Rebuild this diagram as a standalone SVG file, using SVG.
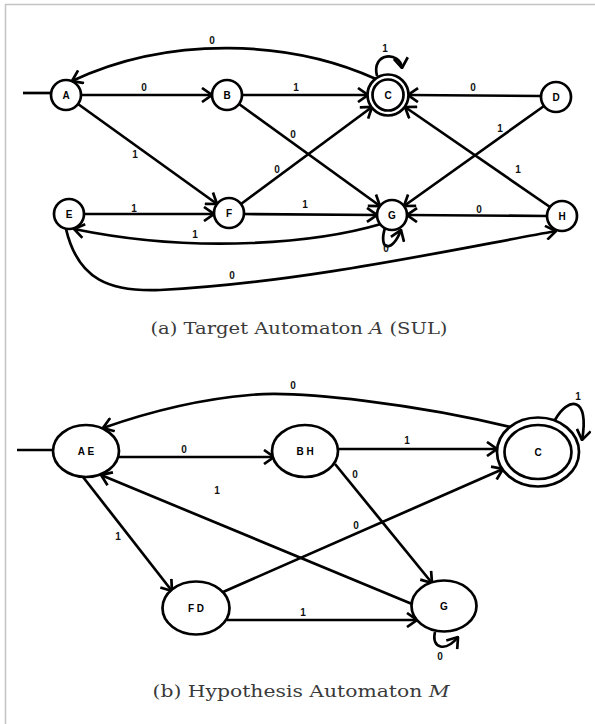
<svg xmlns="http://www.w3.org/2000/svg" width="595" height="724" viewBox="0 0 595 724">
<style>
.n{fill:#fff;stroke:#000;stroke-width:2.7}
.e{fill:none;stroke:#000;stroke-width:2.7}
.ea{fill:none;stroke:#000;stroke-width:2.7;marker-end:url(#arr)}
.nl{font-family:"Liberation Sans",Arial,sans-serif;font-size:10px;font-weight:bold;fill:#000;text-anchor:middle}
.el{font-family:"Liberation Sans",Arial,sans-serif;font-size:10px;font-weight:bold;fill:#111;text-anchor:middle}
.cap{font-family:"DejaVu Serif","Liberation Serif",serif;font-size:17px;fill:#3a3a3a;text-anchor:middle}
</style>
<defs>
<marker id="arr" viewBox="0 0 12 16" refX="11" refY="8" markerWidth="12" markerHeight="16" orient="auto" markerUnits="userSpaceOnUse">
<path d="M1,1 L11,8 L1,15" fill="none" stroke="#000" stroke-width="2.7"/>
</marker>
</defs>
<rect width="595" height="724" fill="#fff"/>
<g id="frame" fill="none" stroke="#c4c4c4" stroke-width="1.5">
<path d="M5.5,724 L5.5,4.5 L595,4.5"/>
</g>

<g id="connectors-a">
<path class="e" d="M23,93 L51,93"/>
<path class="ea" d="M81,95 L212,95"/>
<path class="ea" d="M242,95 L368,95"/>
<path class="ea" d="M541,96 L408,95"/>
<path class="ea" d="M376,79 C290,40 170,35 72,81"/>
<path class="ea" d="M377,76 C371,52 400,51 402,68"/>
<path class="ea" d="M239,104 L380,206"/>
<path class="ea" d="M78,104 L217,204"/>
<path class="ea" d="M241,204 L372,107"/>
<path class="ea" d="M544,106 L404,206"/>
<path class="ea" d="M550,207 L405,107"/>
<path class="ea" d="M84,214 L214,214"/>
<path class="ea" d="M244,214 L377,215"/>
<path class="ea" d="M547,216 L407,215"/>
<path class="ea" d="M381,224 C320,242 200,255 74,229"/>
<path class="ea" d="M66,229 C78,280 110,292 160,290 C300,283 450,250 556,231"/>
<path class="ea" d="M385,228 C378,250 392,254 401,230"/>
</g>
<g id="labels-a">
<text class="el" x="212" y="44">0</text>
<text class="el" x="385" y="52">1</text>
<text class="el" x="144" y="91">0</text>
<text class="el" x="296" y="91">1</text>
<text class="el" x="473" y="91">0</text>
<text class="el" x="293" y="138">0</text>
<text class="el" x="135" y="158">1</text>
<text class="el" x="277" y="173">0</text>
<text class="el" x="500" y="132">1</text>
<text class="el" x="518" y="173">1</text>
<text class="el" x="134" y="212">1</text>
<text class="el" x="305" y="208">1</text>
<text class="el" x="479" y="213">0</text>
<text class="el" x="195" y="238">1</text>
<text class="el" x="232" y="279">0</text>
<text class="el" x="386" y="252">0</text>
</g>
<g id="A"><circle class="n" cx="66" cy="95" r="15"/><text class="nl" x="66" y="99">A</text></g>
<g id="B"><circle class="n" cx="227" cy="95" r="15"/><text class="nl" x="227" y="99">B</text></g>
<g id="C"><circle class="n" cx="388" cy="95" r="20.5"/><circle class="n" cx="388" cy="95" r="15.5"/><text class="nl" x="388" y="99">C</text></g>
<g id="D"><circle class="n" cx="556" cy="97" r="15"/><text class="nl" x="556" y="101">D</text></g>
<g id="E"><circle class="n" cx="69" cy="214" r="15"/><text class="nl" x="69" y="218">E</text></g>
<g id="F"><circle class="n" cx="229" cy="213" r="15"/><text class="nl" x="229" y="217">F</text></g>
<g id="G"><circle class="n" cx="392" cy="215" r="15"/><text class="nl" x="392" y="219">G</text></g>
<g id="H"><circle class="n" cx="562" cy="216" r="15"/><text class="nl" x="562" y="220">H</text></g>
<text class="cap" x="299" y="334" textLength="297" lengthAdjust="spacingAndGlyphs">(a) Target Automaton <tspan font-style="italic">A</tspan> (SUL)</text>

<g id="connectors-b">
<path class="e" d="M17,450 L53,450"/>
<path class="ea" d="M118,457 L274,457"/>
<path class="ea" d="M338,449 L497,449"/>
<path class="ea" d="M510,427 C420,405 300,390 250,395 C190,400 140,415 103,428"/>
<path class="ea" d="M555,420 C568,396 590,396 582,440"/>
<path class="ea" d="M335,464 L432,583"/>
<path class="ea" d="M223,592 L503,469"/>
<path class="ea" d="M412,604 L101,475"/>
<path class="ea" d="M83,477 L172,591"/>
<path class="ea" d="M227,620 L417,620"/>
<path class="ea" d="M435,632 C431,649 446,652 458,637"/>
</g>
<g id="labels-b">
<text class="el" x="293" y="389">0</text>
<text class="el" x="578" y="400">1</text>
<text class="el" x="184" y="453">0</text>
<text class="el" x="407" y="444">1</text>
<text class="el" x="355" y="478">0</text>
<text class="el" x="356" y="529">0</text>
<text class="el" x="217" y="494">1</text>
<text class="el" x="118" y="540">1</text>
<text class="el" x="303" y="616">1</text>
<text class="el" x="440" y="660">0</text>
</g>
<g id="AE"><ellipse class="n" cx="86" cy="451" rx="33" ry="26"/><text class="nl" x="86" y="455">A E</text></g>
<g id="BH"><ellipse class="n" cx="305" cy="451" rx="33" ry="26"/><text class="nl" x="305" y="455">B H</text></g>
<g id="C2"><ellipse class="n" cx="538" cy="452" rx="41" ry="34.5"/><ellipse class="n" cx="538" cy="452" rx="33.5" ry="27"/><text class="nl" x="538" y="456">C</text></g>
<g id="FD"><ellipse class="n" cx="196" cy="608" rx="33.5" ry="26.5"/><text class="nl" x="196" y="612">F D</text></g>
<g id="G2"><ellipse class="n" cx="444" cy="606" rx="32.5" ry="25.5"/><text class="nl" x="444" y="610">G</text></g>
<text class="cap" x="301" y="697" textLength="297" lengthAdjust="spacingAndGlyphs">(b) Hypothesis Automaton <tspan font-style="italic">M</tspan></text>
</svg>
